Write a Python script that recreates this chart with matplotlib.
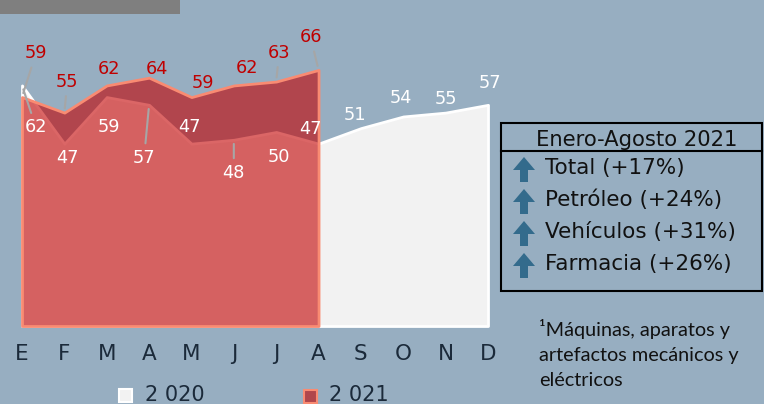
import matplotlib
matplotlib.use("Agg")
import matplotlib.pyplot as plt
from matplotlib.patches import Rectangle, Polygon

# datos
meses = ["E", "F", "M", "A", "M", "J", "J", "A", "S", "O", "N", "D"]
v2020 = [62, 47, 59, 57, 47, 48, 50, 47, 51, 54, 55, 57]
v2021 = [59, 55, 62, 64, 59, 62, 63, 66]
titulo_cuadro = "Enero-Agosto 2021"
filas_cuadro = ["Total (+17%)", "Petróleo (+24%)", "Vehículos (+31%)", "Farmacia (+26%)"]
leyenda = ["2 020", "2 021"]
nota = "¹Máquinas, aparatos y\nartefactos mecánicos y\neléctricos"

# desplazamiento de etiquetas (px) y si llevan linea guia
off2021 = [(14, -44), (3, -31), (2, -16), (8, -9), (11, -14), (13, -17), (3, -29), (-8, -33)]
guia2021 = [True, True, False, False, False, False, True, True]
off2020 = [(14, 42), (3, 14), (2, 30), (-5, 53), (-2, -17), (0, 33), (3, 25),
           (-8, -15), (-6, -13), (-2, -18), (0, -14), (2, -22)]
guia2020 = [True, False, False, True, False, True, False, False, False, False, False, False]

fondo = "#97AEC1"
rojo_borde = "#F98B72"
W, H = 764, 404

fig = plt.figure(figsize=(W / 100, H / 100), dpi=100, facecolor=fondo)
ax = fig.add_axes([22 / W, 78 / H, 466 / W, 326 / H])
ax.set_facecolor("none")
ax.set_xlim(0, 11)
ax.set_ylim(0, 326 / 3.88)

x20 = list(range(len(v2020)))
x21 = list(range(len(v2021)))
ax.fill_between(x20, 0, v2020, facecolor="#F2F2F2", edgecolor="white", lw=2, clip_on=False, zorder=1)
ax.fill_between(x21, 0, v2021, facecolor=(0.765, 0, 0, 0.6), edgecolor=rojo_borde, lw=2,
                clip_on=False, zorder=2)

px = 0.72  # px -> pt
for i, v in enumerate(v2021):
    dx, dy = off2021[i]
    ap = dict(arrowstyle="-", color="#A6A6A6", lw=1.5, shrinkA=2, shrinkB=3) if guia2021[i] else None
    ax.annotate(str(v), xy=(i, v), xytext=(dx * px, -dy * px), textcoords="offset points",
                ha="center", va="center", fontsize=12.8, color="#C00000",
                arrowprops=ap, zorder=5, annotation_clip=False)
for i, v in enumerate(v2020):
    dx, dy = off2020[i]
    ap = dict(arrowstyle="-", color="#A6A6A6", lw=1.5, shrinkA=2, shrinkB=3) if guia2020[i] else None
    ax.annotate(str(v), xy=(i, v), xytext=(dx * px, -dy * px), textcoords="offset points",
                ha="center", va="center", fontsize=12.8, color="white",
                arrowprops=ap, zorder=5, annotation_clip=False)

ax.set_xticks(x20)
ax.set_xticklabels(meses, fontsize=15.5, color="#1B2A3A")
ax.tick_params(axis="x", length=0, pad=13)
ax.set_yticks([])
for s in ax.spines.values():
    s.set_visible(False)

# capa en pixeles para cuadro, leyenda y nota
ov = fig.add_axes([0, 0, 1, 1])
ov.set_xlim(0, W)
ov.set_ylim(H, 0)
ov.axis("off")
ov.set_facecolor("none")

ov.add_patch(Rectangle((0, 0), 180, 14, color="#7F7F7F", lw=0))

ov.add_patch(Rectangle((501, 123), 261, 168, fill=False, ec="black", lw=1.5))
ov.plot([501, 762], [151, 151], color="black", lw=1.5)
ov.text(637, 140, titulo_cuadro, ha="center", va="center", fontsize=15.2, color="#111111")
for k, t in enumerate(filas_cuadro):
    yc = 168 + 32 * k
    cx = 524
    top = yc - 11
    ov.add_patch(Polygon([(cx, top), (cx - 11, top + 13), (cx - 4, top + 13), (cx - 4, top + 25),
                          (cx + 4, top + 25), (cx + 4, top + 13), (cx + 11, top + 13)],
                         closed=True, color="#336B8C", lw=0))
    ov.text(545, yc, t, ha="left", va="center", fontsize=15.5, color="#111111")

# leyenda
ov.add_patch(Rectangle((119, 389), 13, 13, fc="#F2F2F2", ec="white", lw=1.5))
ov.text(145, 395, leyenda[0], ha="left", va="center", fontsize=15, color="#1B2A3A")
ov.add_patch(Rectangle((304, 390), 13, 13, fc="#B0464B", ec=rojo_borde, lw=1.5))
ov.text(329, 395, leyenda[1], ha="left", va="center", fontsize=15, color="#1B2A3A")

ov.text(539, 319, nota, ha="left", va="top", fontsize=14.3, family="Lato",
        color="#111111", linespacing=1.58)

fig.savefig("out.png", dpi=100, facecolor=fondo)
